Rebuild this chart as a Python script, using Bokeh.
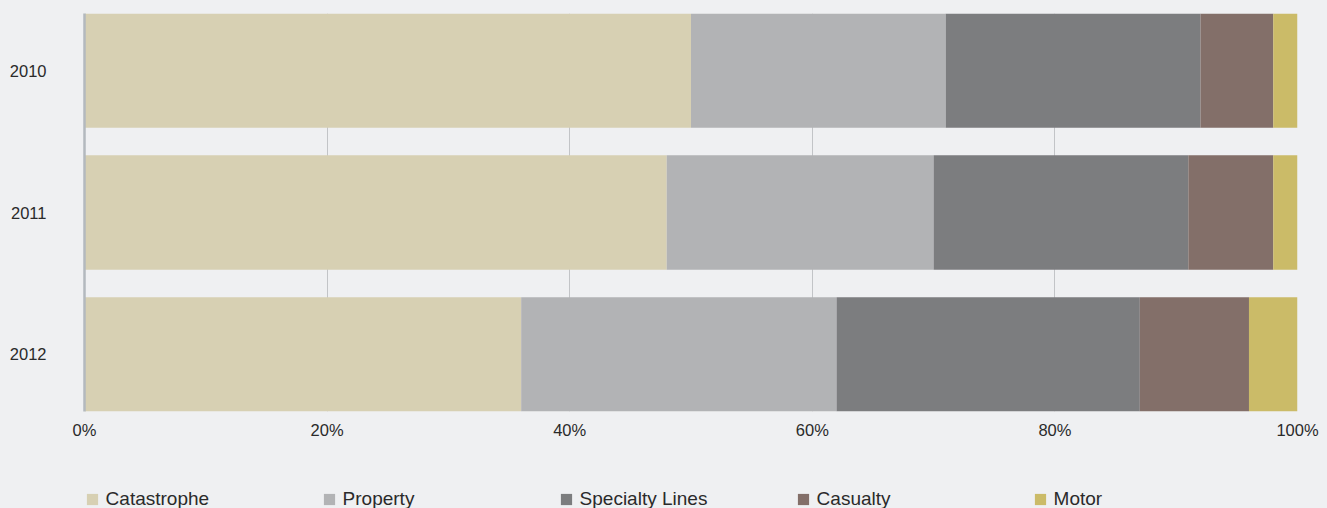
from bokeh.plotting import figure
from bokeh.layouts import column
from bokeh.models import ColumnDataSource, Range1d, FixedTicker, Legend, LegendItem
from bokeh.embed import file_html
from bokeh.resources import INLINE

years = ["2010", "2011", "2012"]
categories = ["Catastrophe", "Property", "Specialty Lines", "Casualty", "Motor"]
catastrophe = [50, 48, 36]
property_ = [21, 22, 26]
specialty = [21, 21, 25]
casualty = [6, 7, 9]
motor = [2, 2, 4]
x_ticks = [0, 20, 40, 60, 80, 100]
x_tick_labels = ["0%", "20%", "40%", "60%", "80%", "100%"]
colors = ["#d7d0b3", "#b2b3b5", "#7c7d7f", "#836f69", "#cbbb68"]

BG = "#eff0f2"
FONT = "Liberation Sans"

data = dict(y=list(range(len(years))))
for name, vals in zip(categories, [catastrophe, property_, specialty, casualty, motor]):
    data[name] = vals
source = ColumnDataSource(data)

p = figure(width=1327, height=460, output_backend="svg", toolbar_location=None,
           x_range=Range1d(0, 100), y_range=Range1d(2.403, -0.403),
           min_border_left=84, min_border_right=30, min_border_top=13, min_border_bottom=49)
p.background_fill_color = BG
p.border_fill_color = BG
p.outline_line_color = None

p.hbar_stack(categories, y="y", height=0.806, color=colors, source=source, line_color=None)

# x axis
p.xaxis.ticker = FixedTicker(ticks=x_ticks)
p.xaxis.major_label_overrides = {t: l for t, l in zip(x_ticks, x_tick_labels)}
p.xaxis.axis_line_color = None
p.xaxis.major_tick_line_color = None
p.xaxis.minor_tick_line_color = None
p.xaxis.major_tick_out = 0
p.xaxis.major_label_standoff = 9
p.xaxis.major_label_text_font = FONT
p.xaxis.major_label_text_font_size = "16.5px"
p.xaxis.major_label_text_color = "#2a2a2a"

# y axis
p.yaxis.ticker = FixedTicker(ticks=list(range(len(years))))
p.yaxis.major_label_overrides = {i: y for i, y in enumerate(years)}
p.yaxis.axis_line_color = "#b3b9be"
p.yaxis.axis_line_width = 2.5
p.yaxis.major_tick_line_color = None
p.yaxis.minor_tick_line_color = None
p.yaxis.major_tick_out = 0
p.yaxis.major_label_standoff = 38
p.yaxis.major_label_text_font = FONT
p.yaxis.major_label_text_font_size = "16.5px"
p.yaxis.major_label_text_color = "#2a2a2a"

p.ygrid.grid_line_color = None
p.xgrid.grid_line_color = "#c2c4c7"
p.xgrid.grid_line_width = 1

# legend strip (its own small figure below the chart)
pl = figure(width=1327, height=48, output_backend="svg", toolbar_location=None,
            x_axis_type=None, y_axis_type=None,
            x_range=Range1d(0, 100), y_range=Range1d(10, 11),
            min_border=0)
pl.background_fill_color = BG
pl.border_fill_color = BG
pl.outline_line_color = None
pl.grid.grid_line_color = None
legend_renderers = pl.hbar_stack(categories, y="y", height=0.806, color=colors,
                                 source=source, line_color=None)

items = [LegendItem(label=c, renderers=[r]) for c, r in zip(categories, legend_renderers)]
legend = Legend(items=items, orientation="horizontal", location=(0.6, -2),
                glyph_width=14, glyph_height=14, label_standoff=7, label_width=216,
                label_height=14, spacing=0, padding=0, margin=0,
                border_line_color=None, background_fill_alpha=0,
                label_text_font=FONT, label_text_font_size="19px", label_text_color="#2a2a2a")
pl.add_layout(legend, "center")

layout = column(p, pl, spacing=0)

open("out.html", "w").write(file_html(layout, INLINE).replace("<head>", "<head><style>html,body{background:#eff0f2;}</style>", 1))
